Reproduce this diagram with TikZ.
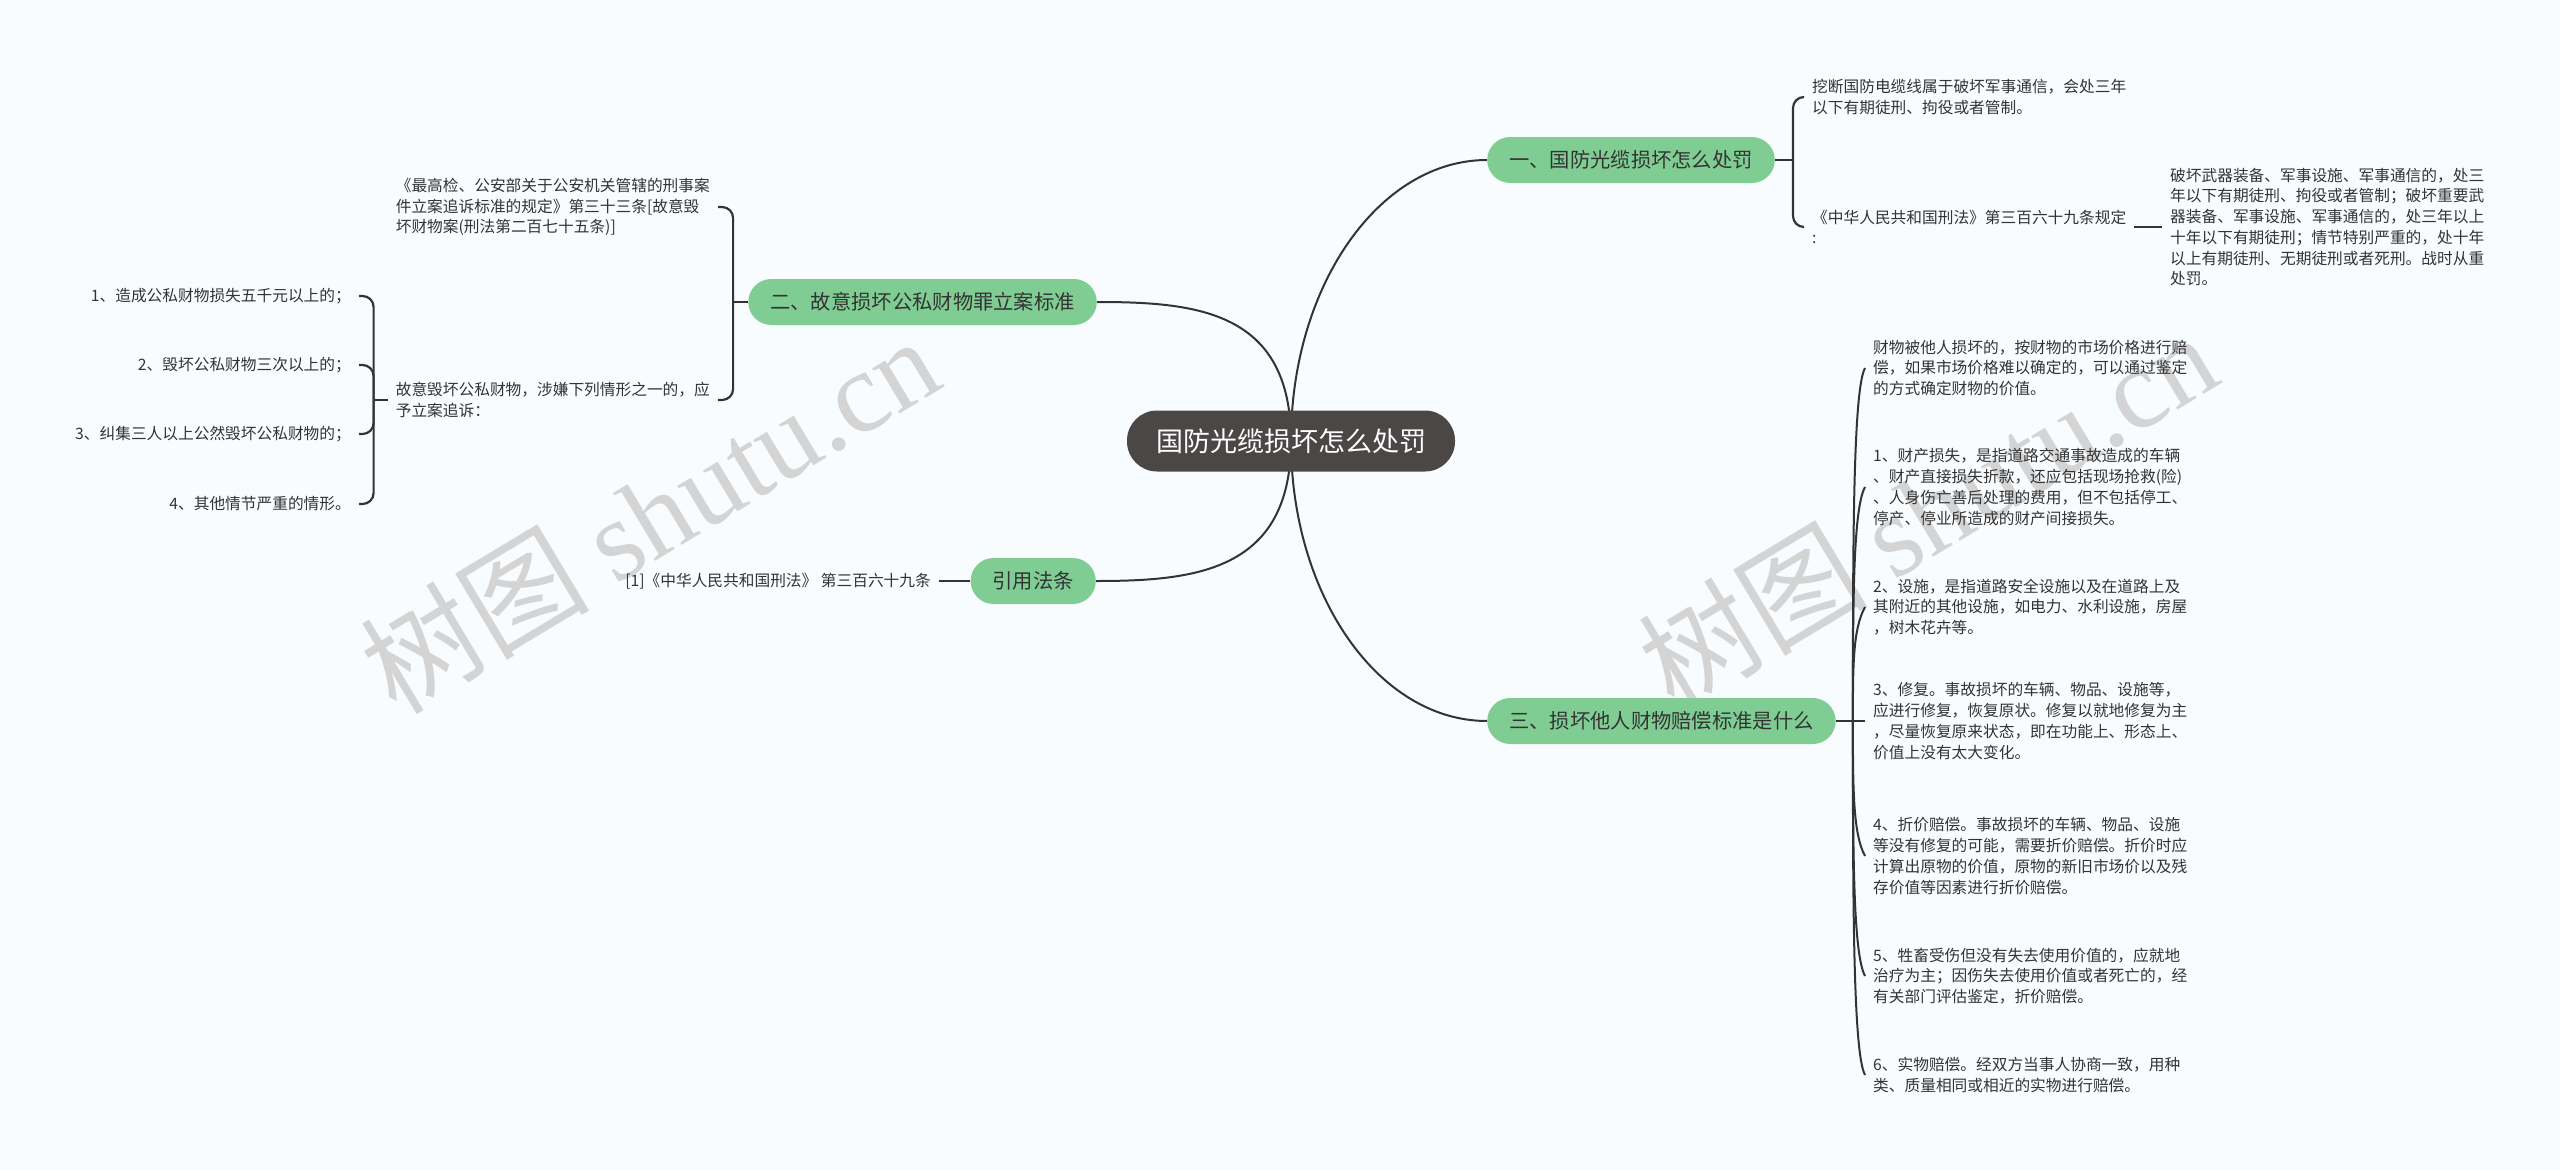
\documentclass[tikz,border=0pt]{standalone}
\usepackage{fontspec}
\setmainfont{Noto Sans CJK SC}
\newfontfamily\markfont{Liberation Serif}
\usetikzlibrary{positioning,backgrounds,calc}
\definecolor{bgcol}{HTML}{F9FCFE}
\definecolor{rootcol}{HTML}{4B4746}
\definecolor{leafgreen}{HTML}{80CD93}
\definecolor{inkcol}{HTML}{333333}
\definecolor{markcol}{HTML}{D4D4D4}
\tikzset{
  rootbox/.style={fill=rootcol, text=white, rounded corners=30, minimum height=61, inner xsep=29, font=\fontsize{27}{32}\selectfont},
  branchbox/.style={fill=leafgreen, text=inkcol, rounded corners=23, minimum height=46, inner xsep=22, font=\fontsize{20.3}{24}\selectfont},
  leaftext/.style={text=inkcol, align=left, inner xsep=8, inner ysep=2, font=\fontsize{15.7}{20.7}\selectfont},
  link/.style={draw=inkcol, line width=2},
  brace/.style={draw=inkcol, line width=2.2, rounded corners=11},
  watermark/.style={text=markcol, rotate=31, font=\fontsize{115}{120}\selectfont}
}
\begin{document}
\begin{tikzpicture}[x=1pt, y=-1pt]
\useasboundingbox (0,0) rectangle (2560,1170);
\node[rootbox] (root) at (1291,441) {国防光缆损坏怎么处罚};
\node[branchbox, anchor=west] (punish) at (1487,160) {一、国防光缆损坏怎么处罚};
\node[branchbox, anchor=east] (standard) at (1097,302) {二、故意损坏公私财物罪立案标准};
\node[branchbox, anchor=east] (cite) at (1096,581) {引用法条};
\node[branchbox, anchor=west] (comp) at (1487,721) {三、损坏他人财物赔偿标准是什么};

\node[leaftext, anchor=west] (punishA) at (1804,97) {挖断国防电缆线属于破坏军事通信，会处三年\\以下有期徒刑、拘役或者管制。};
\node[leaftext, anchor=west] (punishB) at (1804,227) {《中华人民共和国刑法》第三百六十九条规定\\:};
\node[leaftext, anchor=west] (punishC) at (2162,227) {破坏武器装备、军事设施、军事通信的，处三\\年以下有期徒刑、拘役或者管制；破坏重要武\\器装备、军事设施、军事通信的，处三年以上\\十年以下有期徒刑；情节特别严重的，处十年\\以上有期徒刑、无期徒刑或者死刑。战时从重\\处罚。};

\node[leaftext, anchor=east] (standardA) at (718,207) {《最高检、公安部关于公安机关管辖的刑事案\\件立案追诉标准的规定》第三十三条[故意毁\\坏财物案(刑法第二百七十五条)]};
\node[leaftext, anchor=east] (standardB) at (718,400) {故意毁坏公私财物，涉嫌下列情形之一的，应\\予立案追诉：};
\node[leaftext, anchor=east] (case1) at (359,296) {1、造成公私财物损失五千元以上的；};
\node[leaftext, anchor=east] (case2) at (359,365) {2、毁坏公私财物三次以上的；};
\node[leaftext, anchor=east] (case3) at (359,434) {3、纠集三人以上公然毁坏公私财物的；};
\node[leaftext, anchor=east] (case4) at (359,504) {4、其他情节严重的情形。};

\node[leaftext, anchor=east] (citeA) at (939,581) {[1]《中华人民共和国刑法》 第三百六十九条};

\node[leaftext, anchor=west] (comp1) at (1865,368) {财物被他人损坏的，按财物的市场价格进行赔\\偿，如果市场价格难以确定的，可以通过鉴定\\的方式确定财物的价值。};
\node[leaftext, anchor=west] (comp2) at (1865,487) {1、财产损失，是指道路交通事故造成的车辆\\、财产直接损失折款，还应包括现场抢救(险)\\、人身伤亡善后处理的费用，但不包括停工、\\停产、停业所造成的财产间接损失。};
\node[leaftext, anchor=west] (comp3) at (1865,607) {2、设施，是指道路安全设施以及在道路上及\\其附近的其他设施，如电力、水利设施，房屋\\，树木花卉等。};
\node[leaftext, anchor=west] (comp4) at (1865,721) {3、修复。事故损坏的车辆、物品、设施等，\\应进行修复，恢复原状。修复以就地修复为主\\，尽量恢复原来状态，即在功能上、形态上、\\价值上没有太大变化。};
\node[leaftext, anchor=west] (comp5) at (1865,856) {4、折价赔偿。事故损坏的车辆、物品、设施\\等没有修复的可能，需要折价赔偿。折价时应\\计算出原物的价值，原物的新旧市场价以及残\\存价值等因素进行折价赔偿。};
\node[leaftext, anchor=west] (comp6) at (1865,976) {5、牲畜受伤但没有失去使用价值的，应就地\\治疗为主；因伤失去使用价值或者死亡的，经\\有关部门评估鉴定，折价赔偿。};
\node[leaftext, anchor=west] (comp7) at (1865,1075) {6、实物赔偿。经双方当事人协商一致，用种\\类、质量相同或相近的实物进行赔偿。};

\coordinate (punishJ) at ([xshift=18]punish.east);
\coordinate (standardJ) at ([xshift=-15]standard.west);
\coordinate (caseJ) at ([xshift=-14]standardB.west);
\coordinate (compJ) at ([xshift=17]comp.east);

\begin{scope}[on background layer]
\fill[bgcol] (0,0) rectangle (2560,1170);
\node[watermark] (markL) at (649,514) {树图 {\markfont shutu.cn}};
\node[watermark] (markR) at (1927,510) {树图 {\markfont shutu.cn}};
\draw[link] (root.center) .. controls +(0,-155) and +(-108,0) .. (punish.west);
\draw[link] (root.center) .. controls +(0,-130) and +(100,0) .. (standard.east);
\draw[link] (root.center) .. controls +(0,130) and +(100,0) .. (cite.east);
\draw[link] (root.center) .. controls +(0,155) and +(-108,0) .. (comp.west);
\end{scope}

\draw[link] (punish.east) -- (punishJ);
\draw[brace] (punishJ) |- (punishA.west);
\draw[brace] (punishJ) |- (punishB.west);
\draw[link] (punishB.east) -- (punishC.west);

\draw[link] (standard.west) -- (standardJ);
\draw[brace] (standardJ) |- (standardA.east);
\draw[brace] (standardJ) |- (standardB.east);
\draw[link] (standardB.west) -- (caseJ);
\foreach \n in {1,...,4}
  \draw[brace] (caseJ) |- (case\n.east);

\draw[link] (cite.west) -- (citeA.east);

\draw[link] (comp.east) -- (comp4.west);
\foreach \n/\sgn in {1/1,2/1,3/1,5/-1,6/-1,7/-1}
  \draw[link] (compJ) .. controls ($(compJ)!0.5!(compJ |- comp\n.west)$) and ($(comp\n.west)+(-12,\sgn*22)$) .. (comp\n.west);
\end{tikzpicture}
\end{document}
